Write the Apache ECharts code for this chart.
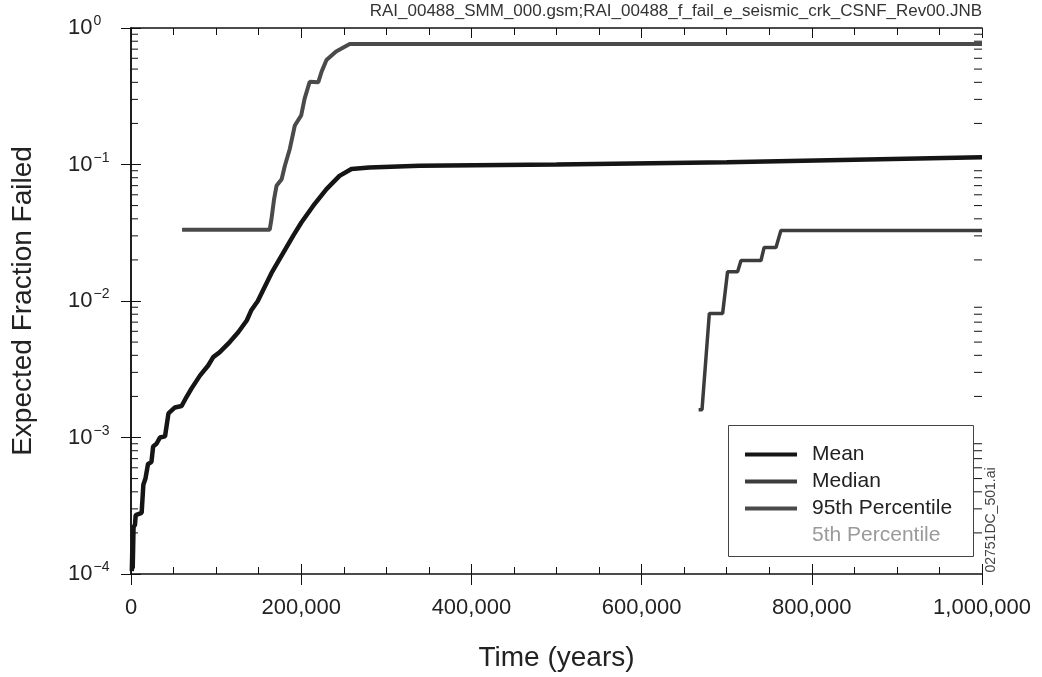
<!DOCTYPE html>
<html>
<head>
<meta charset="utf-8">
<title>Expected Fraction Failed</title>
<script src="https://cdn.jsdelivr.net/npm/echarts@6/dist/echarts.min.js"></script>
<style>
  html, body { margin: 0; padding: 0; background: #fff; }
  #chart { width: 1042px; height: 677px; }
</style>
</head>
<body>
<div id="chart"></div>
<script>
// 数据 (时间 年, 失效比例)
var seriesNames = ['Mean', 'Median', '95th Percentile', '5th Percentile'];

var meanData = [
  [1000, 1.05e-4], [1500, 1.5e-4], [2000, 1.1e-4], [2500, 1.55e-4], [3000, 2.2e-4],
  [4700, 2.3e-4], [5500, 2.7e-4], [12500, 2.8e-4], [14500, 4.5e-4], [17000, 5.0e-4],
  [20000, 6.4e-4], [24000, 6.6e-4], [26000, 8.6e-4], [30000, 9.0e-4], [34000, 1.0e-3],
  [40000, 1.02e-3], [44000, 1.5e-3], [51600, 1.66e-3], [59500, 1.7e-3], [65000, 1.97e-3],
  [71000, 2.28e-3], [81000, 2.84e-3], [90700, 3.37e-3], [96600, 3.88e-3], [104000, 4.2e-3],
  [116000, 5.0e-3], [126000, 5.9e-3], [136000, 7.2e-3], [141600, 8.6e-3], [149000, 1.0e-2],
  [165000, 0.016], [190500, 0.030], [200000, 0.0374], [214000, 0.0497], [229700, 0.066],
  [245000, 0.0826], [259000, 0.0927], [280000, 0.095], [339000, 0.098], [500000, 0.100],
  [700000, 0.104], [1000000, 0.113]
];

var medianData = [
  [667000, 1.6e-3], [671000, 1.6e-3], [679600, 8.1e-3], [695200, 8.1e-3], [701000, 0.0164],
  [712800, 0.0164], [716800, 0.0198], [740300, 0.0198], [744000, 0.0247], [757900, 0.0247],
  [763700, 0.0328], [1000000, 0.0328]
];

var p95Data = [
  [60000, 0.0333], [163000, 0.0333], [165000, 0.0396], [168000, 0.055], [171000, 0.0698],
  [177000, 0.078], [180800, 0.098], [186600, 0.13], [192500, 0.193], [200000, 0.229],
  [204000, 0.304], [210000, 0.404], [220000, 0.40], [224000, 0.479], [229700, 0.583],
  [241000, 0.673], [257000, 0.762], [1000000, 0.762]
];

// 5th percentile stays below 1e-4 over the whole period, so nothing is drawn
var p5Data = [];

var titleText = 'RAI_00488_SMM_000.gsm;RAI_00488_f_fail_e_seismic_crk_CSNF_Rev00.JNB';
var sideText = '02751DC_501.ai';

// 对数轴的次刻度 (2..9 x 10^k)
var minorTicks = [];
for (var k = -4; k < 0; k++) {
  for (var m = 2; m <= 9; m++) {
    minorTicks.push([0, m * Math.pow(10, k)]);
  }
}

(function () {
  var font = "'Liberation Sans', Arial, sans-serif";
  var axisColor = '#111';
  var myChart = echarts.init(document.getElementById('chart'));

  function fmtThousands(v) {
    return String(v).replace(/\B(?=(\d{3})+(?!\d))/g, ',');
  }

  var option = {
    backgroundColor: '#fff',
    animation: false,
    textStyle: { fontFamily: font },
    grid: { left: 131, right: 60, top: 28, bottom: 101, containLabel: false },
    legend: {
      orient: 'vertical',
      left: 745,
      top: 444,
      padding: 0,
      itemWidth: 52,
      itemHeight: 4,
      itemGap: 6,
      icon: 'rect',
      selectedMode: false,
      textStyle: { fontSize: 21, color: '#222', lineHeight: 21, padding: [0, 0, 0, 10], fontFamily: font },
      data: [
        { name: 'Mean' },
        { name: 'Median' },
        { name: '95th Percentile' },
        { name: '5th Percentile', itemStyle: { opacity: 0 }, textStyle: { color: '#9a9a9a' } }
      ]
    },
    graphic: [
      {
        type: 'rect',
        shape: { x: 728.5, y: 425.5, width: 245, height: 131 },
        style: { fill: 'none', stroke: '#444', lineWidth: 1 },
        z: 10
      },
      {
        type: 'text',
        right: 60,
        top: 3,
        style: { text: titleText, font: '17px ' + font, fill: '#333' }
      },
      {
        type: 'text',
        x: 991,
        y: 520,
        rotation: Math.PI / 2,
        style: { text: sideText, font: '14px ' + font, fill: '#444', align: 'center', verticalAlign: 'middle' }
      }
    ],
    xAxis: [
      {
        type: 'value',
        position: 'bottom',
        min: 0,
        max: 1000000,
        interval: 200000,
        name: 'Time (years)',
        nameLocation: 'middle',
        nameGap: 70,
        nameTextStyle: { fontSize: 28, color: '#222', fontFamily: font },
        axisLine: { show: true, lineStyle: { color: axisColor, width: 1.5 } },
        axisTick: { show: true, inside: false, length: 11, lineStyle: { color: axisColor } },
        axisLabel: {
          margin: 23,
          fontSize: 22,
          color: '#222',
          fontFamily: font,
          formatter: fmtThousands
        },
        splitLine: { show: false }
      },
      {
        type: 'value',
        position: 'bottom',
        min: 0,
        max: 1000000,
        interval: 200000,
        axisLine: { show: false },
        axisTick: { show: true, inside: true, length: 10, lineStyle: { color: axisColor } },
        minorTick: { show: true, splitNumber: 4, length: 7, lineStyle: { color: axisColor } },
        axisLabel: { show: false },
        splitLine: { show: false }
      },
      {
        type: 'value',
        position: 'top',
        min: 0,
        max: 1000000,
        interval: 200000,
        axisLine: { show: true, lineStyle: { color: axisColor, width: 1.5 } },
        axisTick: { show: true, inside: true, length: 10, lineStyle: { color: axisColor } },
        minorTick: { show: true, splitNumber: 4, length: 7, lineStyle: { color: axisColor } },
        axisLabel: { show: false },
        splitLine: { show: false }
      }
    ],
    yAxis: [
      {
        type: 'log',
        logBase: 10,
        position: 'left',
        min: 1e-4,
        max: 1,
        name: 'Expected Fraction Failed',
        nameLocation: 'middle',
        nameGap: 94,
        nameTextStyle: { fontSize: 28, color: '#222', fontFamily: font },
        axisLine: { show: true, lineStyle: { color: axisColor, width: 1.5 } },
        axisTick: { show: true, inside: false, length: 10, lineStyle: { color: axisColor } },
        axisLabel: {
          margin: 63,
          align: 'left',
          color: '#222',
          formatter: function (v) {
            var e = Math.round(Math.log10(v));
            var s = e < 0 ? '\u2212' + (-e) : String(e);
            return '{b|10}{s|' + s + '}';
          },
          rich: {
            b: { fontSize: 22, fontFamily: font, color: '#222' },
            s: { fontSize: 14, fontFamily: font, color: '#222', padding: [0, 0, 13, 1] }
          }
        },
        splitLine: { show: false }
      },
      {
        type: 'log',
        logBase: 10,
        position: 'left',
        min: 1e-4,
        max: 1,
        axisLine: { show: false },
        axisTick: { show: true, inside: true, length: 10, lineStyle: { color: axisColor } },
        axisLabel: { show: false },
        splitLine: { show: false }
      },
      {
        type: 'log',
        logBase: 10,
        position: 'right',
        min: 1e-4,
        max: 1,
        axisLine: { show: true, lineStyle: { color: axisColor, width: 1.5 } },
        axisTick: { show: true, inside: true, length: 10, lineStyle: { color: axisColor } },
        axisLabel: { show: false },
        splitLine: { show: false }
      }
    ],
    series: [
      {
        name: 'Mean',
        type: 'line',
        data: meanData,
        symbol: 'none',
        color: '#151515',
        lineStyle: { width: 4.5, color: '#151515' },
        z: 5
      },
      {
        name: 'Median',
        type: 'line',
        data: medianData,
        symbol: 'none',
        color: '#3c3c3c',
        lineStyle: { width: 3.5, color: '#3c3c3c' },
        z: 4
      },
      {
        name: '95th Percentile',
        type: 'line',
        data: p95Data,
        symbol: 'none',
        color: '#4a4a4a',
        lineStyle: { width: 4, color: '#4a4a4a' },
        z: 3
      },
      {
        name: '5th Percentile',
        type: 'line',
        data: p5Data,
        symbol: 'none',
        color: '#bdbdbd',
        lineStyle: { width: 3, color: '#bdbdbd' },
        z: 2
      },
      {
        // 对数轴次刻度
        name: 'minorTicks',
        type: 'custom',
        silent: true,
        clip: false,
        data: minorTicks,
        renderItem: function (params, api) {
          var v = api.value(1);
          var pl = api.coord([0, v]);
          var pr = api.coord([1000000, v]);
          return {
            type: 'group',
            children: [
              { type: 'line', shape: { x1: pl[0], y1: pl[1], x2: pl[0] + 7, y2: pl[1] }, style: { stroke: axisColor, lineWidth: 1 } },
              { type: 'line', shape: { x1: pr[0] - 8, y1: pr[1], x2: pr[0], y2: pr[1] }, style: { stroke: axisColor, lineWidth: 1 } }
            ]
          };
        },
        z: 1
      }
    ]
  };

  myChart.setOption(option);
  window.addEventListener('resize', function () {
    myChart.resize();
  });
})();
</script>
</body>
</html>
